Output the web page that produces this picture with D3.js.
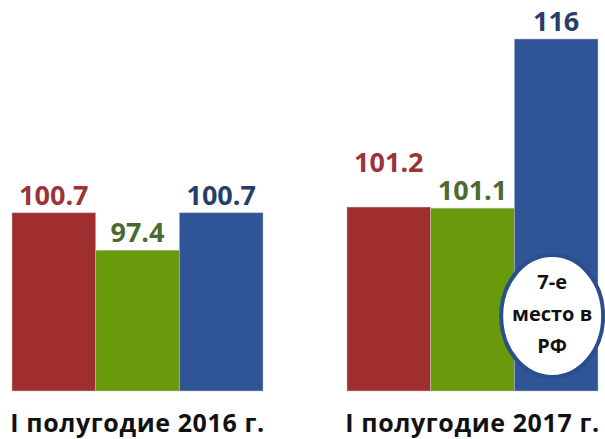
<!DOCTYPE html>
<html>
<head>
<meta charset="utf-8">
<script src="https://cdn.jsdelivr.net/npm/d3@7"></script>
<style>
  body { margin: 0; background: #fff; }
  svg { display: block; font-family: "Open Sans", sans-serif; }
</style>
</head>
<body>
<div class="graf"></div>
<script>
// data
const categories = ['I полугодие 2016 г.', 'I полугодие 2017 г.'];
const seriesNames = ['red', 'green', 'blue'];
const redValues = [100.7, 101.2];
const greenValues = [97.4, 101.1];
const blueValues = [100.7, 116];
const noteLines = ['7-е', 'место в', 'РФ'];

main();
function main() {
    const width = 605, height = 439;

    const barColor = { red: '#a12e2f', green: '#689a0c', blue: '#2f5597' };
    const labelColor = { red: '#9b3339', green: '#4b6a2f', blue: '#263f69' };
    const values = { red: redValues, green: greenValues, blue: blueValues };

    const svg = d3.select('.graf')
        .append('svg')
        .attr('width', width)
        .attr('height', height);

    // scales
    const x0 = d3.scaleBand()
        .domain(categories)
        .range([12, 598])
        .paddingInner(0.2507)
        .paddingOuter(0);

    const x1 = d3.scaleBand()
        .domain(seriesNames)
        .range([0, x0.bandwidth()]);

    const y = d3.scaleLinear()
        .domain([85, 116])
        .range([391, 39]);

    const rows = categories.map((c, i) => ({
        cat: c,
        bars: seriesNames.map(s => ({ s: s, v: values[s][i] }))
    }));

    const groups = svg.append('g').selectAll('g')
        .data(rows)
        .join('g')
        .attr('transform', d => `translate(${x0(d.cat)},0)`);

    groups.selectAll('rect')
        .data(d => d.bars)
        .join('rect')
        .attr('x', d => x1(d.s))
        .attr('y', d => y(d.v))
        .attr('width', x1.bandwidth())
        .attr('height', d => y(85) - y(d.v))
        .attr('fill', d => barColor[d.s])
        .attr('stroke', 'rgba(200,200,200,0.6)')
        .attr('stroke-width', 0.8);

    groups.selectAll('text.val')
        .data(d => d.bars)
        .join('text')
        .attr('class', 'val')
        .attr('x', d => x1(d.s) + x1.bandwidth() / 2)
        .attr('y', d => y(d.v) - 8)
        .attr('text-anchor', 'middle')
        .attr('font-size', 27)
        .attr('font-weight', 700)
        .attr('fill', d => labelColor[d.s])
        .text(d => d.v);

    // labels too close to the next one get pushed up
    groups.each(function () {
        const ls = d3.select(this).selectAll('text.val').nodes();
        for (let i = ls.length - 2; i >= 0; i--) {
            const a = ls[i].getBBox(), b = ls[i + 1].getBBox();
            const yA = +ls[i].getAttribute('y'), yB = +ls[i + 1].getAttribute('y');
            if (a.x + a.width > b.x - 20 && Math.abs(yA - yB) < a.height * 0.9) {
                ls[i].setAttribute('y', Math.min(yA, yB) - 27);
            }
        }
    });

    // category labels
    svg.append('g').selectAll('text')
        .data(categories)
        .join('text')
        .attr('x', d => x0(d) + x0.bandwidth() / 2)
        .attr('y', 432)
        .attr('text-anchor', 'middle')
        .attr('font-size', 25)
        .attr('letter-spacing', 0.6)
        .attr('font-weight', 700)
        .attr('fill', '#111')
        .text(d => d);

    // note ellipse on 2017 blue bar
    const bx = x0(categories[1]) + x1('blue') + x1.bandwidth() / 2 - 4;
    const by = y(85) - 75;
    const note = svg.append('g');
    note.append('ellipse')
        .attr('cx', bx)
        .attr('cy', by)
        .attr('rx', 51)
        .attr('ry', 61)
        .attr('fill', '#fff')
        .attr('stroke', '#2a4e8e')
        .attr('stroke-width', 4);
    note.selectAll('text')
        .data(noteLines)
        .join('text')
        .attr('x', bx)
        .attr('y', (d, i) => by - 27 + i * 32)
        .attr('text-anchor', 'middle')
        .attr('font-size', 20)
        .attr('font-weight', 700)
        .attr('fill', '#111')
        .text(d => d);
}
</script>
</body>
</html>
